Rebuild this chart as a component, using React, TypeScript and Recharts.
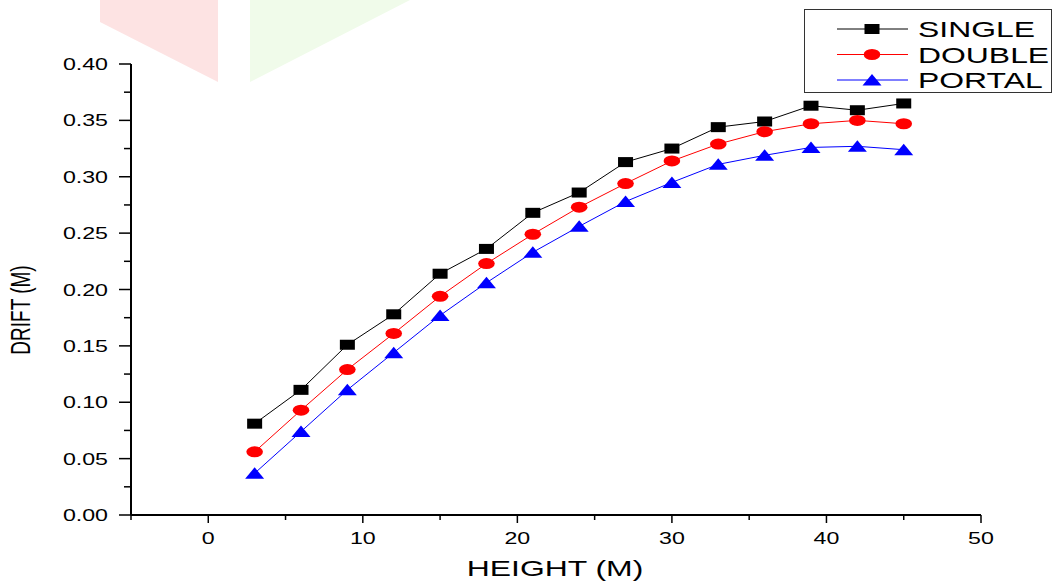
import React from "react";
import { LineChart, Line, XAxis, YAxis, Customized } from "recharts";

const heights = [3, 6, 9, 12, 15, 18, 21, 24, 27, 30, 33, 36, 39, 42, 45];
const single = [0.081, 0.111, 0.151, 0.178, 0.214, 0.236, 0.268, 0.286, 0.313, 0.325, 0.344, 0.349, 0.363, 0.359, 0.365];
const double = [0.056, 0.093, 0.129, 0.161, 0.194, 0.223, 0.249, 0.273, 0.294, 0.314, 0.329, 0.340, 0.347, 0.350, 0.347];
const portal = [0.037, 0.074, 0.111, 0.144, 0.177, 0.206, 0.233, 0.256, 0.278, 0.295, 0.311, 0.319, 0.326, 0.327, 0.324];

const xTicks = [-5, 0, 5, 10, 15, 20, 25, 30, 35, 40, 45, 50];
const yTicks = [0, 0.025, 0.05, 0.075, 0.1, 0.125, 0.15, 0.175, 0.2, 0.225, 0.25, 0.275, 0.3, 0.325, 0.35, 0.375, 0.4];

const seriesNames = ["SINGLE", "DOUBLE", "PORTAL"];
const seriesColors = ["#000000", "#ff0000", "#0000ff"];

const data = heights.map((h, i) => ({ h, single: single[i], double: double[i], portal: portal[i] }));

const FONT = "'Liberation Sans', Arial, sans-serif";
const SX = 1.45;

const StretchText = ({ x, y, anchor, size, children }: any) => (
  <text
    transform={`translate(${x},${y}) scale(${SX},1)`}
    textAnchor={anchor}
    fontFamily={FONT}
    fontSize={size}
    fill="#000"
  >
    {children}
  </text>
);

const Square = (props: any) => {
  const { cx, cy, fill } = props;
  if (cx == null || cy == null) return null;
  return <rect x={cx - 7.5} y={cy - 5} width={15} height={10} fill={fill} />;
};
const Circle = (props: any) => {
  const { cx, cy, fill } = props;
  if (cx == null || cy == null) return null;
  return <ellipse cx={cx} cy={cy} rx={8.3} ry={5.5} fill={fill} />;
};
const Triangle = (props: any) => {
  const { cx, cy, fill } = props;
  if (cx == null || cy == null) return null;
  return <polygon points={`${cx - 9.5},${cy + 5.5} ${cx + 9.5},${cy + 5.5} ${cx},${cy - 6}`} fill={fill} />;
};

const XTick = (props: any) => {
  const { x, y, payload } = props;
  const v = payload.value;
  const major = Math.round(v) % 10 === 0;
  return (
    <g>
      <line x1={x} x2={x} y1={y} y2={y + (major ? 8 : 5)} stroke="#000" strokeWidth={1.5} />
      {major && (
        <StretchText x={x} y={y + 29} anchor="middle" size={16}>
          {String(v)}
        </StretchText>
      )}
    </g>
  );
};

const YTick = (props: any) => {
  const { x, y, payload } = props;
  const v = payload.value;
  const major = Math.round(v * 1000) % 50 === 0;
  return (
    <g>
      <line x1={x - (major ? 12 : 7)} x2={x} y1={y} y2={y} stroke="#000" strokeWidth={1.5} />
      {major && (
        <StretchText x={x - 23} y={y + 6} anchor="end" size={16}>
          {v.toFixed(2)}
        </StretchText>
      )}
    </g>
  );
};

const Markers = [Square, Circle, Triangle];

const LegendBox = () => (
  <g transform="translate(804,9)">
    <rect x={0.5} y={0.5} width={247} height={83} fill="#fff" stroke="#333" strokeWidth={1} />
    {seriesNames.map((n, i) => {
      const cy = 20 + i * 25.5;
      const M = Markers[i];
      return (
        <g key={n}>
          <line x1={33} x2={104} y1={cy} y2={cy} stroke={seriesColors[i]} strokeWidth={1} />
          <M cx={68} cy={cy} fill={seriesColors[i]} />
          <StretchText x={114} y={cy + 8} anchor="start" size={22}>
            {n}
          </StretchText>
        </g>
      );
    })}
  </g>
);

const Watermark = () => (
  <g>
    <polygon points="100,0 218,0 218,82 100,22" fill="#fde3e3" />
    <polygon points="250,0 410,0 250,82" fill="#f0fbea" />
  </g>
);

export default function App() {
  return (
    <div style={{ position: "absolute", left: 0, top: 0, width: 1053, height: 582, background: "#fff" }}>
      <LineChart
        width={1053}
        height={582}
        data={data}
        margin={{ top: 64, right: 72, bottom: 0, left: 0 }}
      >
        <Customized component={Watermark} />
        <XAxis
          dataKey="h"
          type="number"
          domain={[-5, 50]}
          ticks={xTicks}
          interval={0}
          tickSize={0}
          tickMargin={0}
          tickLine={false}
          tick={<XTick />}
          height={67}
          axisLine={{ stroke: "#000", strokeWidth: 2 }}
          allowDataOverflow
          label={() => (
            <StretchText x={555} y={576} anchor="middle" size={22}>
              HEIGHT (M)
            </StretchText>
          )}
        />
        <YAxis
          type="number"
          domain={[0, 0.4]}
          ticks={yTicks}
          interval={0}
          tickSize={0}
          tickMargin={0}
          tickLine={false}
          tick={<YTick />}
          width={131}
          axisLine={{ stroke: "#000", strokeWidth: 2 }}
          allowDataOverflow
          label={() => (
            <text
              transform={`translate(30,310) rotate(-90) scale(1,1.45)`}
              textAnchor="middle"
              fontFamily={FONT}
              fontSize={19}
              fill="#000"
            >
              DRIFT (M)
            </text>
          )}
        />
        <Line dataKey="single" name="SINGLE" stroke="#000000" strokeWidth={1} dot={<Square fill="#000000" />} isAnimationActive={false} />
        <Line dataKey="double" name="DOUBLE" stroke="#ff0000" strokeWidth={1} dot={<Circle fill="#ff0000" />} isAnimationActive={false} />
        <Line dataKey="portal" name="PORTAL" stroke="#0000ff" strokeWidth={1} dot={<Triangle fill="#0000ff" />} isAnimationActive={false} />
        <Customized component={LegendBox} />
      </LineChart>
    </div>
  );
}
